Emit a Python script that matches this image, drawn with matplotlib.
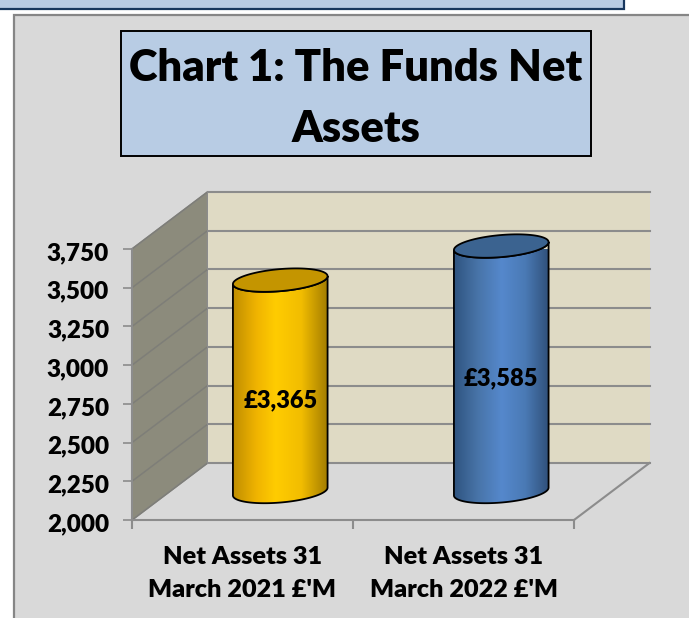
import numpy as np
import matplotlib
matplotlib.use('Agg')
import matplotlib.pyplot as plt
from matplotlib.colors import LinearSegmentedColormap
from matplotlib.patches import Polygon, Rectangle
from matplotlib.transforms import ScaledTranslation

labels = ["Net Assets 31\nMarch 2021 £'M", "Net Assets 31\nMarch 2022 £'M"]
values = [3365, 3585]
value_text = ['£3,365', '£3,585']
yticks = [2000, 2250, 2500, 2750, 3000, 3250, 3500, 3750]
ytick_text = ['2,000', '2,250', '2,500', '2,750', '3,000', '3,250', '3,500', '3,750']
title = 'Chart 1: The Funds Net\nAssets'

plt.rcParams['font.family'] = ['Lato', 'DejaVu Sans']
plt.rcParams['font.weight'] = 'heavy'

W, H = 689, 618
fig = plt.figure(figsize=(W/100, H/100), dpi=100, facecolor='white')

# page furniture, in pixels of the picture
bg = fig.add_axes([0, 0, 1, 1])
bg.set_xlim(0, W)
bg.set_ylim(H, 0)
bg.axis('off')
bg.add_patch(Rectangle((-5, -5), 629, 14, fc='#b8cce4', ec='#17375e', lw=1.6))
bg.add_patch(Rectangle((13.5, 15), W, H, fc='#d9d9d9', ec='#868686', lw=1.6))
bg.add_patch(Rectangle((121, 31), 470, 125, fc='#b8cce4', ec='black', lw=1.4))
bg.text(356, 98.5, title, ha='center', va='center', fontsize=31.3, fontweight='heavy',
        color='black', linespacing=1.66)

# axes = front plane of the 3d box
ax = fig.add_axes([132/W, (H-520)/H, 442/W, 271/H])
ax.patch.set_alpha(0)
ax.set_xlim(0, 2)
ax.set_ylim(2000, 3750)
ux = 2/442          # data units per pixel
uy = 1750/271
dx = 75.5*ux        # depth of the box
dy = 57*uy
ymin, ymax = 2000, 3750
line = '#8c8c8c'

# side wall, back wall, floor
ax.add_patch(Polygon([(0, ymin), (dx, ymin+dy), (dx, ymax+dy), (0, ymax)], fc='#8c8b7c', ec=line,
                     lw=1.2, clip_on=False, zorder=1))
ax.add_patch(Rectangle((dx, ymin+dy), 2, ymax-ymin, fc='#dfdac4', ec='none', clip_on=False, zorder=1))
for v in yticks:
    ax.plot([0, dx], [v, v+dy], color='#7e7e78', lw=1.1, clip_on=False, zorder=2)
    ax.plot([dx, 2+dx], [v+dy, v+dy], color=line, lw=1.5, clip_on=False, zorder=2)
ax.plot([2, 2+dx], [ymin, ymin+dy], color=line, lw=1.5, clip_on=False, zorder=2)


def ell(cx, cy, t, a=47.5, b=11, ang=np.radians(5)):
    px = a*np.cos(t)*np.cos(ang) - b*np.sin(t)*np.sin(ang)
    py = a*np.cos(t)*np.sin(ang) + b*np.sin(t)*np.cos(ang)
    return cx + px*ux, cy + py*uy


def cylinder(pos, val, stops, top_color):
    cx = pos + dx/2
    base = ymin + dy/2
    top = val + dy/2
    t = np.linspace(np.pi, 2*np.pi, 80)
    bx, by = ell(cx, base, t)
    tx, ty = ell(cx, top, t)
    body = Polygon(np.r_[np.c_[bx, by], np.c_[tx[::-1], ty[::-1]]], fc='none', ec='black', lw=1.3,
                   zorder=5, clip_on=False)
    ax.add_patch(body)
    cmap = LinearSegmentedColormap.from_list('c', stops)
    img = ax.imshow(np.linspace(0, 1, 256).reshape(1, -1), cmap=cmap, aspect='auto', zorder=4,
                    extent=[bx.min(), bx.max(), by.min(), ty.max()+30], clip_on=True,
                    interpolation='bilinear')
    img.set_clip_path(body)
    t = np.linspace(0, 2*np.pi, 120)
    ex, ey = ell(cx, top, t)
    ax.fill(ex, ey, fc=top_color, ec='black', lw=1.3, zorder=6, clip_on=False)


yellow = [(0, '#c08e00'), (0.25, '#f0b400'), (0.45, '#ffcc00'), (0.72, '#f2bd00'), (1, '#a27c00')]
blue = [(0, '#2f5480'), (0.25, '#4874a8'), (0.5, '#5588cc'), (0.75, '#4a7ab5'), (1, '#30507a')]
cylinder(0.5, values[0], yellow, '#c49500')
cylinder(1.5, values[1], blue, '#3b6390')
ax.set_xlim(0, 2)
ax.set_ylim(ymin, ymax)

# value labels part way up the cylinders
ax.text(0.5+dx/2, ymin+dy/2+(values[0]-ymin)*0.43, value_text[0], ha='center', va='center',
        fontsize=17, fontweight='heavy', zorder=8, clip_on=False)
ax.text(1.5+dx/2, ymin+dy/2+(values[1]-ymin)*0.46, value_text[1], ha='center', va='center',
        fontsize=17, fontweight='heavy', zorder=8, clip_on=False)

for s in ['top', 'right']:
    ax.spines[s].set_visible(False)
for s in ['left', 'bottom']:
    ax.spines[s].set_color(line)
    ax.spines[s].set_linewidth(1.5)
    ax.spines[s].set_zorder(3)
ax.set_yticks(yticks)
ax.set_yticklabels(ytick_text, fontsize=17.5, fontweight='heavy')
ax.tick_params(axis='y', length=6.5, width=1.2, color=line, pad=10)
for lab in ax.get_yticklabels():
    lab.set_transform(lab.get_transform() + ScaledTranslation(0, -2/100, fig.dpi_scale_trans))
ax.set_xticks([0, 1, 2])
ax.set_xticklabels([])
ax.set_xticks([0.5, 1.5], minor=True)
ax.set_xticklabels(labels, minor=True, fontsize=18.2, fontweight='heavy', linespacing=1.6)
ax.tick_params(axis='x', which='major', length=6.5, width=1.5, color=line)
ax.tick_params(axis='x', which='minor', length=0, pad=19)

fig.savefig('out.png', dpi=100)
